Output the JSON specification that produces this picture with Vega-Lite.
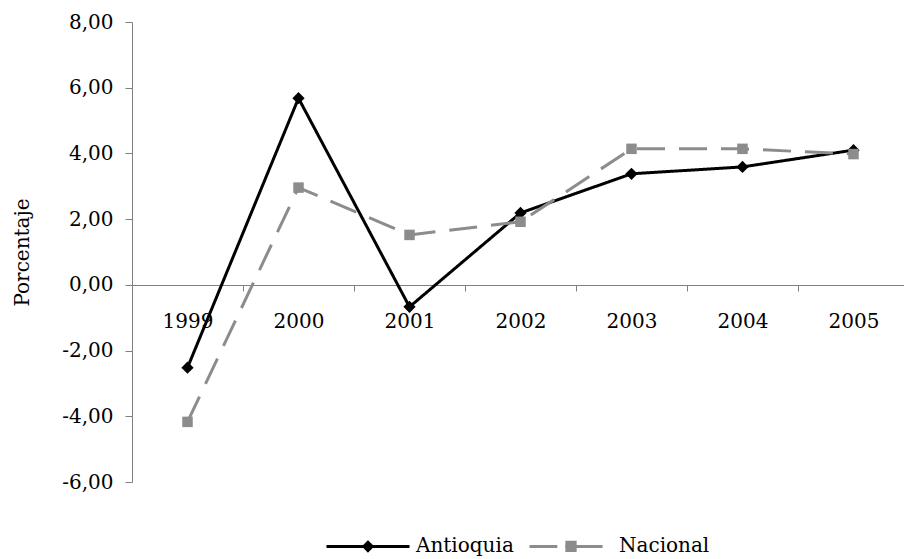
{
  "$schema": "https://vega.github.io/schema/vega-lite/v6.json",
  "width": 777,
  "height": 460,
  "autosize": {"type": "none"},
  "padding": {"left": 132, "top": 22, "right": -5, "bottom": 77},
  "background": "white",
  "data": {
    "values": [
      {"anio": "1999", "serie": "Antioquia", "valor": -2.52},
      {"anio": "2000", "serie": "Antioquia", "valor": 5.68},
      {"anio": "2001", "serie": "Antioquia", "valor": -0.67},
      {"anio": "2002", "serie": "Antioquia", "valor": 2.19},
      {"anio": "2003", "serie": "Antioquia", "valor": 3.38},
      {"anio": "2004", "serie": "Antioquia", "valor": 3.59},
      {"anio": "2005", "serie": "Antioquia", "valor": 4.1},
      {"anio": "1999", "serie": "Nacional", "valor": -4.17},
      {"anio": "2000", "serie": "Nacional", "valor": 2.96},
      {"anio": "2001", "serie": "Nacional", "valor": 1.52},
      {"anio": "2002", "serie": "Nacional", "valor": 1.92},
      {"anio": "2003", "serie": "Nacional", "valor": 4.14},
      {"anio": "2004", "serie": "Nacional", "valor": 4.14},
      {"anio": "2005", "serie": "Nacional", "valor": 3.98}
    ]
  },
  "encoding": {
    "x": {
      "field": "anio",
      "type": "nominal",
      "sort": null,
      "scale": {"type": "band", "paddingInner": 0, "paddingOuter": 0},
      "axis": {
        "title": null,
        "labelAngle": 0,
        "offset": -197,
        "tickBand": "extent",
        "tickSize": 6,
        "labelPadding": 20,
        "domainColor": "#808080",
        "tickColor": "#808080",
        "labelFontSize": 20,
        "labelFont": "DejaVu Serif",
        "labelColor": "black",
        "grid": false
      }
    },
    "y": {
      "field": "valor",
      "type": "quantitative",
      "scale": {"domain": [-6, 8], "nice": false, "zero": false},
      "axis": {
        "values": [-6, -4, -2, 0, 2, 4, 6, 8],
        "labelExpr": "(datum.value < 0 ? '-' : '') + replace(format(abs(datum.value), '.2f'), '.', ',')",
        "title": "Porcentaje",
        "grid": false,
        "domainColor": "#808080",
        "tickColor": "#808080",
        "tickSize": 7,
        "labelPadding": 12,
        "labelFontSize": 20,
        "labelFont": "DejaVu Serif",
        "labelColor": "black",
        "titleFont": "DejaVu Serif",
        "titleFontSize": 20,
        "titleFontWeight": "normal",
        "titleColor": "black",
        "titlePadding": 29
      }
    },
    "color": {
      "field": "serie",
      "type": "nominal",
      "scale": {"domain": ["Antioquia", "Nacional"], "range": ["#000000", "#8c8c8c"]},
      "legend": {
        "orient": "none",
        "legendX": 193,
        "legendY": 481,
        "direction": "horizontal",
        "title": null,
        "padding": 0,
        "labelFont": "DejaVu Serif",
        "labelFontSize": 20,
        "labelColor": "black",
        "labelOffset": 5,
        "columnPadding": 9,
        "symbolSize": 6889,
        "symbolStrokeWidth": 3,
        "encode": {
          "symbols": {
            "update": {
              "shape": {"signal": "datum.value === 'Antioquia' ? 'M-1,0L1,0M0,-0.1L0.1,0L0,0.1L-0.1,0Z' : 'M-1,0L-0.33,0M-0.14,0L0.76,0M-0.1,-0.1L0.1,-0.1L0.1,0.1L-0.1,0.1Z'"},
              "fill": {"signal": "datum.value === 'Antioquia' ? '#000000' : '#999999'"},
              "stroke": {"signal": "datum.value === 'Antioquia' ? '#000000' : '#8c8c8c'"},
              "strokeWidth": {"value": 3},
              "strokeDash": {"value": [1, 0]},
              "size": {"value": 6889},
              "opacity": {"value": 1}
            }
          }
        }
      }
    }
  },
  "layer": [
    {
      "mark": {"type": "line", "strokeWidth": 3},
      "encoding": {
        "strokeDash": {
          "condition": {"test": "datum.serie === 'Nacional'", "value": [28, 14]},
          "value": [1, 0]
        }
      }
    },
    {
      "mark": {"type": "point", "filled": true, "opacity": 1},
      "encoding": {
        "shape": {
          "condition": {"test": "datum.serie === 'Antioquia'", "value": "diamond"},
          "value": "square"
        },
        "size": {
          "condition": {"test": "datum.serie === 'Antioquia'", "value": 150},
          "value": 110
        }
      }
    }
  ],
  "config": {"view": {"stroke": null}, "font": "DejaVu Serif"}
}
